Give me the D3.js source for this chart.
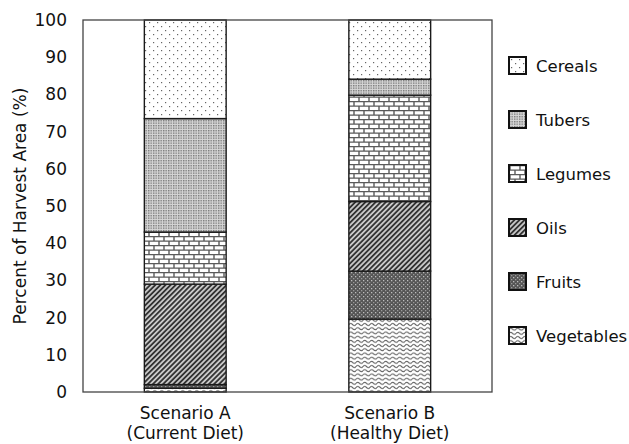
<!DOCTYPE html>
<html>
<head>
<meta charset="utf-8">
<script src="https://cdn.jsdelivr.net/npm/d3@7"></script>
<style>
  body { margin: 0; background: #fff; }
  text { font-family: "DejaVu Sans", Verdana, sans-serif; font-size: 17px; fill: #111; }
</style>
</head>
<body>
<div id="chart"></div>
<script>
// data (percent of harvest area)
var scenarios = ["Scenario A", "Scenario B"];
var scenarioNotes = ["(Current Diet)", "(Healthy Diet)"];
var crops = ["Vegetables", "Fruits", "Oils", "Legumes", "Tubers", "Cereals"];
var scenarioA = [1, 1, 27, 14, 30.5, 26.5];
var scenarioB = [19.6, 12.9, 18.7, 28.6, 4.3, 15.9];
var yTicks = [0, 10, 20, 30, 40, 50, 60, 70, 80, 90, 100];

var W = 629, H = 444;
var margin = { top: 20, right: 137, bottom: 52, left: 83 },
    width = W - margin.left - margin.right,
    height = H - margin.top - margin.bottom;

var svg = d3.select("#chart")
    .append("svg")
    .attr("width", W)
    .attr("height", H);

// fill patterns, one per crop
var defs = svg.append("defs");

var pCereals = defs.append("pattern").attr("id", "p-Cereals")
    .attr("patternUnits", "userSpaceOnUse").attr("width", 8).attr("height", 8);
pCereals.append("rect").attr("width", 8).attr("height", 8).attr("fill", "#fff");
pCereals.append("rect").attr("x", 2).attr("y", 2).attr("width", 1.2).attr("height", 1.2).attr("fill", "#666");
pCereals.append("rect").attr("x", 6).attr("y", 6).attr("width", 1.2).attr("height", 1.2).attr("fill", "#666");

var pTubers = defs.append("pattern").attr("id", "p-Tubers")
    .attr("patternUnits", "userSpaceOnUse").attr("width", 2.5).attr("height", 2.5);
pTubers.append("rect").attr("width", 2.5).attr("height", 2.5).attr("fill", "#d6d6d6");
pTubers.append("rect").attr("width", 1.4).attr("height", 1.4).attr("fill", "#7a7a7a");

var pLegumes = defs.append("pattern").attr("id", "p-Legumes")
    .attr("patternUnits", "userSpaceOnUse").attr("width", 10).attr("height", 9);
pLegumes.append("rect").attr("width", 10).attr("height", 9).attr("fill", "#fff");
pLegumes.append("path")
    .attr("d", "M0,0.6H10M0,5.1H10M1,0.6V5.1M6,5.1V9.6")
    .attr("stroke", "#5a5a5a").attr("stroke-width", 1.4).attr("fill", "none");

var pOils = defs.append("pattern").attr("id", "p-Oils")
    .attr("patternUnits", "userSpaceOnUse").attr("width", 3.6).attr("height", 3.6)
    .attr("patternTransform", "rotate(45)");
pOils.append("rect").attr("width", 3.6).attr("height", 3.6).attr("fill", "#c8c8c8");
pOils.append("rect").attr("width", 1.8).attr("height", 3.6).attr("fill", "#333");

var pFruits = defs.append("pattern").attr("id", "p-Fruits")
    .attr("patternUnits", "userSpaceOnUse").attr("width", 4).attr("height", 4);
pFruits.append("rect").attr("width", 4).attr("height", 4).attr("fill", "#555");
pFruits.append("rect").attr("x", 0).attr("y", 0).attr("width", 1.3).attr("height", 1.3).attr("fill", "#bdbdbd");
pFruits.append("rect").attr("x", 2).attr("y", 2).attr("width", 1.3).attr("height", 1.3).attr("fill", "#999");

var pVeg = defs.append("pattern").attr("id", "p-Vegetables")
    .attr("patternUnits", "userSpaceOnUse").attr("width", 7).attr("height", 4.2);
pVeg.append("rect").attr("width", 7).attr("height", 4.2).attr("fill", "#fff");
pVeg.append("path")
    .attr("d", "M0,2.1 Q1.75,0.2 3.5,2.1 T7,2.1")
    .attr("stroke", "#666").attr("stroke-width", 1.1).attr("fill", "none");

var g = svg.append("g")
    .attr("transform", "translate(" + margin.left + "," + margin.top + ")");

var x = d3.scaleBand()
    .domain(scenarios)
    .range([0, width])
    .paddingInner(0.6)
    .paddingOuter(0.3);

var y = d3.scaleLinear()
    .domain([0, 100])
    .range([height, 0]);

// table for the stack: one row per scenario
var rows = scenarios.map(function (s, i) {
    var vals = i === 0 ? scenarioA : scenarioB;
    var r = { scenario: s };
    crops.forEach(function (c, j) { r[c] = vals[j]; });
    return r;
});

var series = d3.stack().keys(crops)(rows);

g.append("g")
    .selectAll("g")
    .data(series)
    .enter()
    .append("g")
    .attr("fill", function (d) { return "url(#p-" + d.key + ")"; })
    .selectAll("rect")
    .data(function (d) { return d; })
    .enter()
    .append("rect")
    .attr("x", function (d) { return x(d.data.scenario); })
    .attr("y", function (d) { return y(d[1]); })
    .attr("width", x.bandwidth())
    .attr("height", function (d) { return y(d[0]) - y(d[1]); })
    .attr("stroke", "#1a1a1a")
    .attr("stroke-width", 1.4);

// plot frame
g.append("rect")
    .attr("width", width)
    .attr("height", height)
    .attr("fill", "none")
    .attr("stroke", "#444")
    .attr("stroke-width", 1.3);

var yAxis = g.append("g")
    .call(d3.axisLeft(y).tickValues(yTicks).tickSize(0).tickPadding(16));
yAxis.select(".domain").remove();
yAxis.selectAll("text").style("font-size", "17px").attr("fill", "#111");

// category labels, two lines each
var xl = g.append("g");
scenarios.forEach(function (s, i) {
    var cx = x(s) + x.bandwidth() / 2;
    xl.append("text")
        .attr("text-anchor", "middle")
        .attr("x", cx)
        .attr("y", height + 27)
        .text(s);
    xl.append("text")
        .attr("text-anchor", "middle")
        .attr("x", cx)
        .attr("y", height + 47)
        .text(scenarioNotes[i]);
});

svg.append("text")
    .attr("text-anchor", "middle")
    .attr("transform", "rotate(-90)")
    .attr("x", -(margin.top + height / 2))
    .attr("y", 26)
    .text("Percent of Harvest Area (%)");

// legend, top item first
var legend = svg.append("g")
    .attr("transform", "translate(509,57)");

crops.slice().reverse().forEach(function (c, i) {
    var item = legend.append("g")
        .attr("transform", "translate(0," + (i * 54) + ")");
    item.append("rect")
        .attr("width", 17)
        .attr("height", 17)
        .attr("fill", "url(#p-" + c + ")")
        .attr("stroke", "#111")
        .attr("stroke-width", 2);
    item.append("text")
        .attr("x", 27)
        .attr("y", 9)
        .attr("dy", ".35em")
        .style("font-size", "16.5px")
        .text(c);
});
</script>
</body>
</html>
